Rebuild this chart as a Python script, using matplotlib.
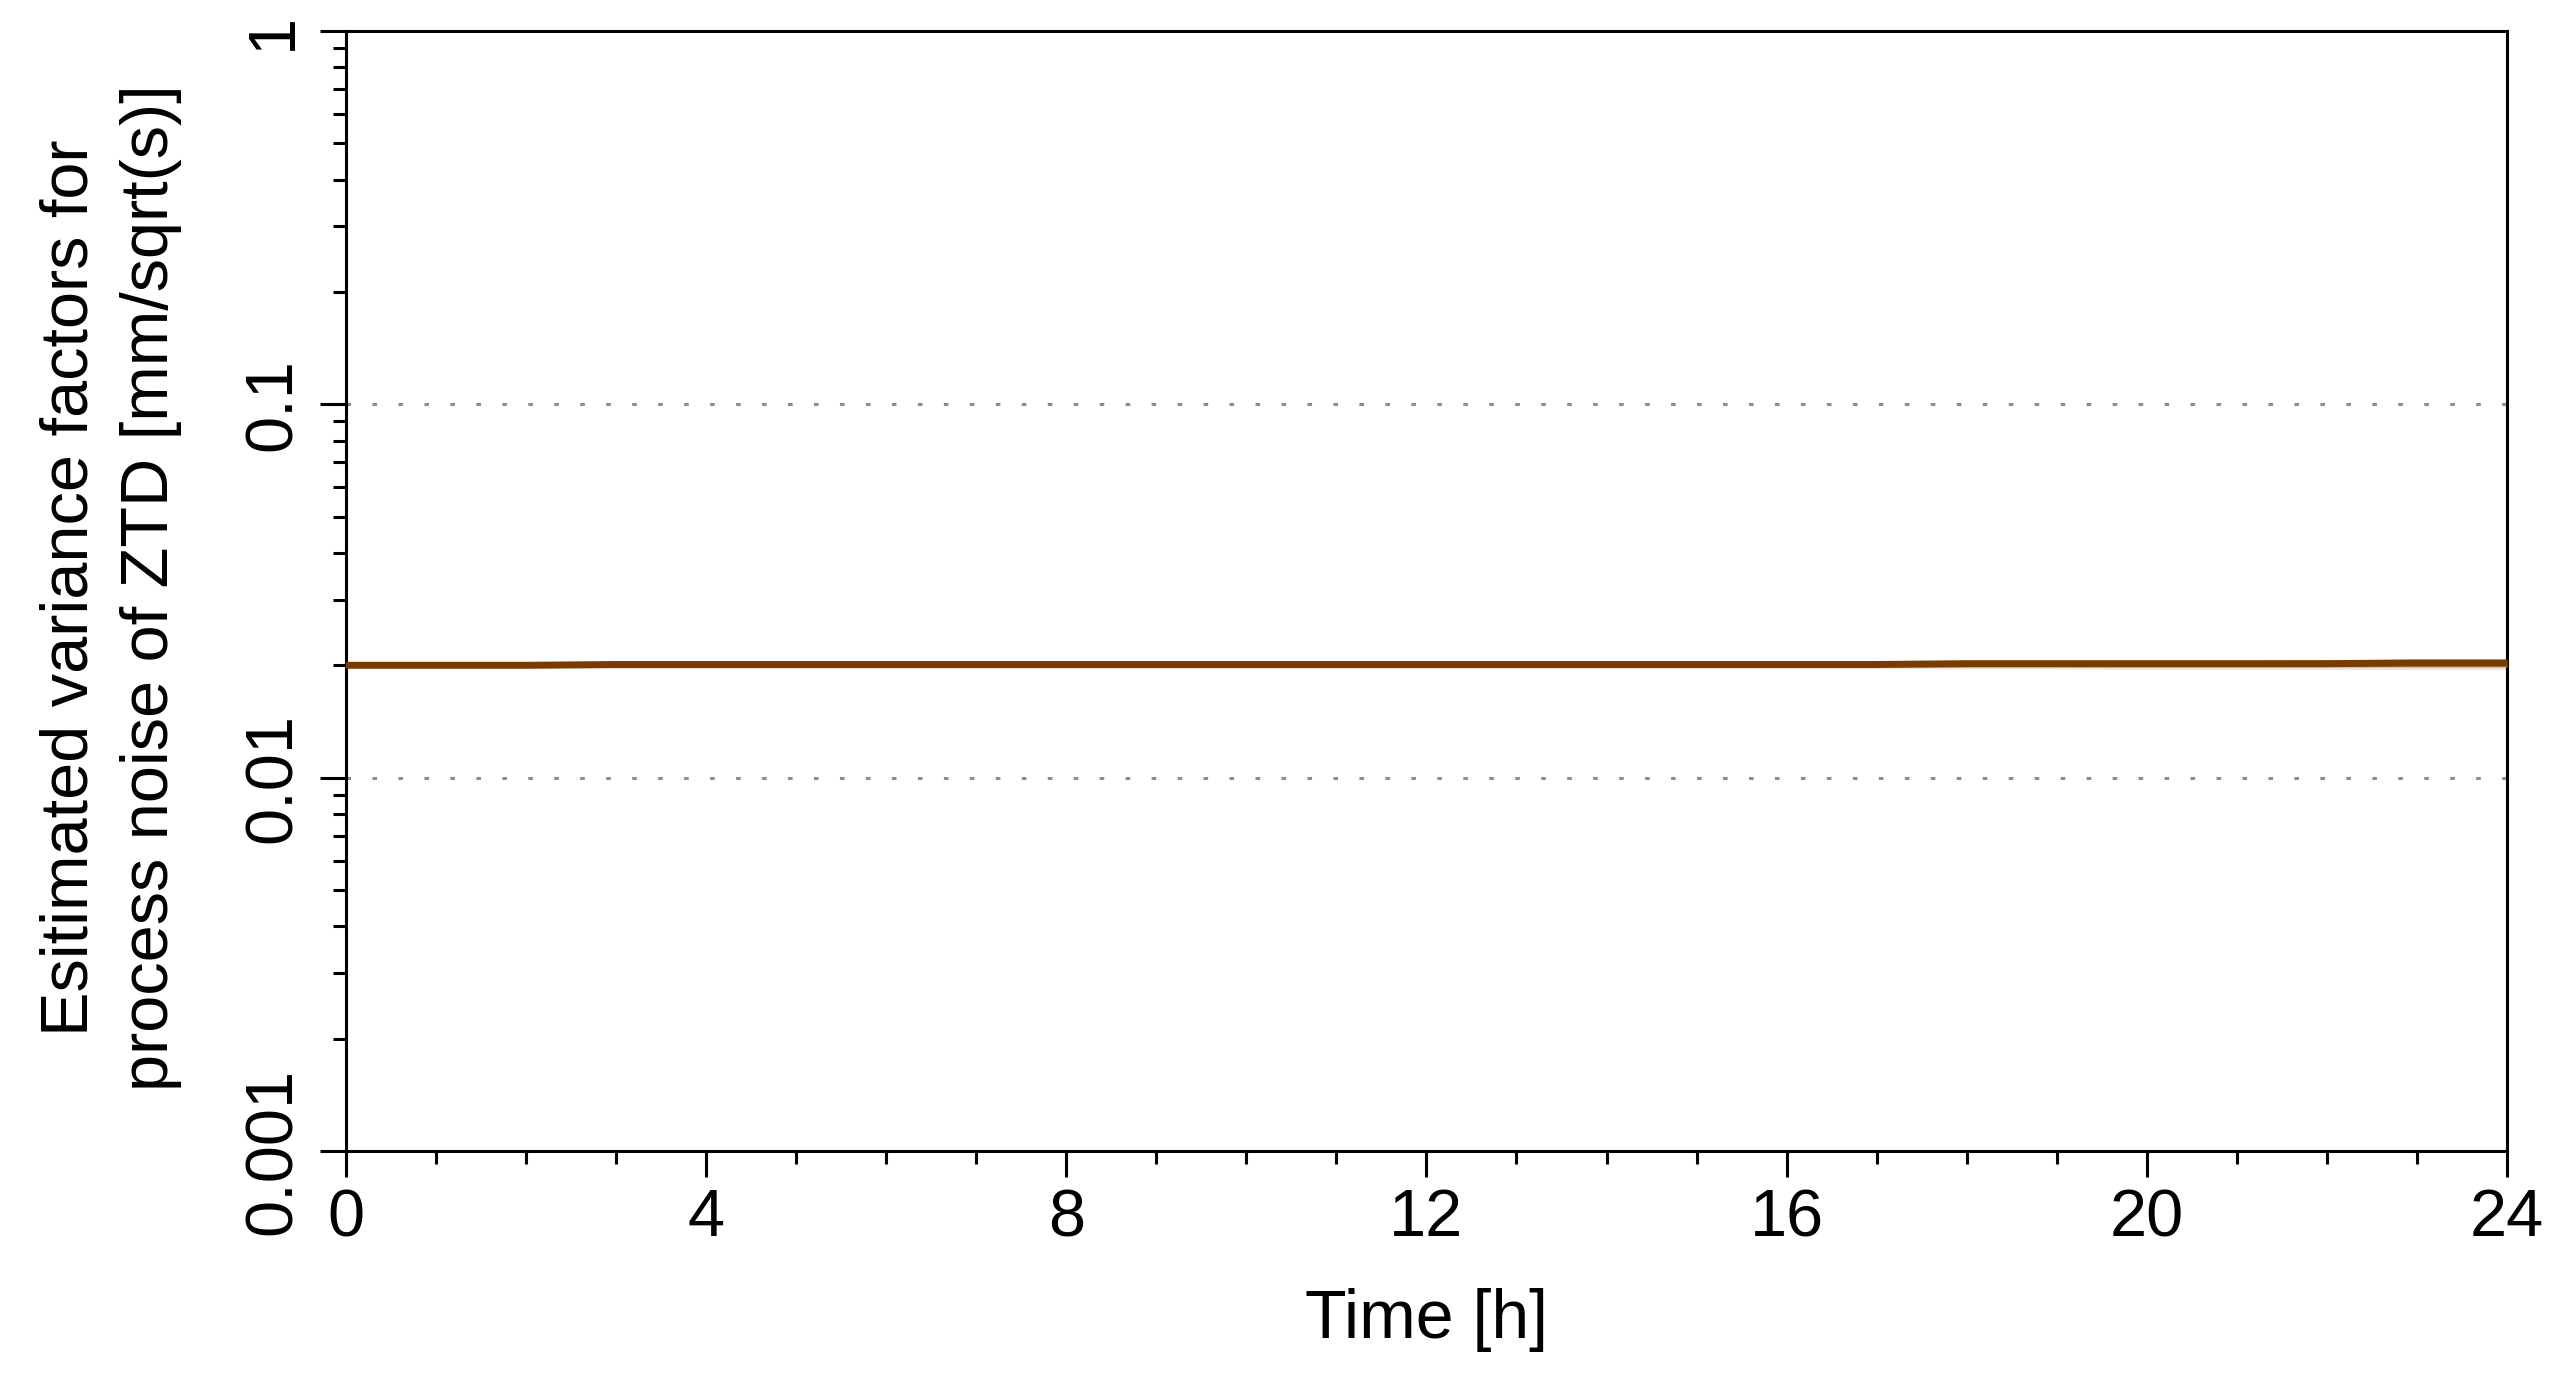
import matplotlib
matplotlib.use("Agg")
import matplotlib.pyplot as plt
from matplotlib.ticker import LogLocator, NullFormatter, FixedLocator

plt.rcParams['font.family'] = ['Liberation Sans', 'DejaVu Sans']

# hourly samples of the estimated variance factor (mm/sqrt(s))
hours = [0, 1, 2, 3, 4, 5, 6, 7, 8, 9, 10, 11, 12, 13, 14, 15, 16, 17, 18, 19, 20, 21, 22, 23, 24]
factor_mean = [0.0200, 0.0200, 0.0200, 0.0201, 0.0201, 0.0201, 0.0201, 0.0201, 0.0201, 0.0201,
               0.0201, 0.0201, 0.0201, 0.0201, 0.0201, 0.0201, 0.0201, 0.0201, 0.0202, 0.0202,
               0.0202, 0.0202, 0.0202, 0.0203, 0.0203]
factor_upper = [0.0200, 0.0202, 0.0202, 0.0203, 0.0203, 0.0203, 0.0203, 0.0203, 0.0203, 0.0204,
                0.0204, 0.0204, 0.0204, 0.0204, 0.0204, 0.0204, 0.0205, 0.0205, 0.0205, 0.0205,
                0.0206, 0.0206, 0.0207, 0.0207, 0.0207]
factor_lower = [0.0200, 0.0198, 0.0198, 0.0198, 0.0198, 0.0198, 0.0198, 0.0198, 0.0198, 0.0198,
                0.0198, 0.0198, 0.0198, 0.0198, 0.0198, 0.0198, 0.0198, 0.0198, 0.0198, 0.0198,
                0.0198, 0.0198, 0.0198, 0.0198, 0.0198]
factor_ghost = [0.0197, 0.0197, 0.0197, 0.0197, 0.0197, 0.0197, 0.0197, 0.0197, 0.0197, 0.0197,
                0.0197, 0.0197, 0.0197, 0.0197, 0.0197, 0.0197, 0.0197, 0.0197, 0.0197, 0.0197,
                0.0196, 0.0196, 0.0196, 0.0196, 0.0196]

x_ticks = [0, 4, 8, 12, 16, 20, 24]
y_ticks = [0.001, 0.01, 0.1, 1]
y_ticklabels = ["0.001", "0.01", "0.1", "1"]
ref_levels = [0.01, 0.1]

brown = "#7a3b00"
fs = 48

fig = plt.figure(figsize=(25.55, 13.77), dpi=100)
ax = fig.add_axes([0.1354, 0.1641, 0.9812 - 0.1354, 0.9775 - 0.1641])

ax.set_yscale("log")
ax.set_xlim(0, 24)
ax.set_ylim(0.001, 1)

for lev in ref_levels:
    ax.axhline(lev, color="#8c8c8c", lw=2.2, ls=(0, (1.5, 7)), zorder=1)

ax.plot(hours, factor_ghost, color="#ebe4dc", lw=2, zorder=2)
ax.fill_between(hours, factor_lower, factor_upper, color="#b88a60", lw=0, zorder=3)
ax.plot(hours, factor_mean, color=brown, lw=5, zorder=4, solid_capstyle="butt")

ax.xaxis.set_major_locator(FixedLocator(x_ticks))
ax.xaxis.set_minor_locator(FixedLocator(list(range(25))))
ax.set_xticklabels([str(t) for t in x_ticks])

ax.yaxis.set_major_locator(FixedLocator(y_ticks))
ax.yaxis.set_minor_locator(LogLocator(base=10, subs=range(2, 10)))
ax.yaxis.set_minor_formatter(NullFormatter())
ax.set_yticklabels(y_ticklabels)

for s in ax.spines.values():
    s.set_linewidth(2.2)

ax.tick_params(which="major", direction="out", length=18.7, width=2.2, labelsize=fs, pad=8)
ax.tick_params(which="minor", direction="out", length=9.4, width=2.2)
ax.tick_params(axis="y", which="major", pad=11)
for lab in ax.get_yticklabels():
    lab.set_rotation(90)
    lab.set_va("center")

ax.set_xlabel("Time [h]", fontsize=49, labelpad=27)
fig.text(0.0434, 0.573,
         "Esitimated variance factors for\nprocess noise of ZTD [mm/sqrt(s)]",
         rotation=90, ha="center", va="center", multialignment="center",
         fontsize=48, linespacing=1.4)

fig.savefig("out.png", dpi=100, facecolor="white")
